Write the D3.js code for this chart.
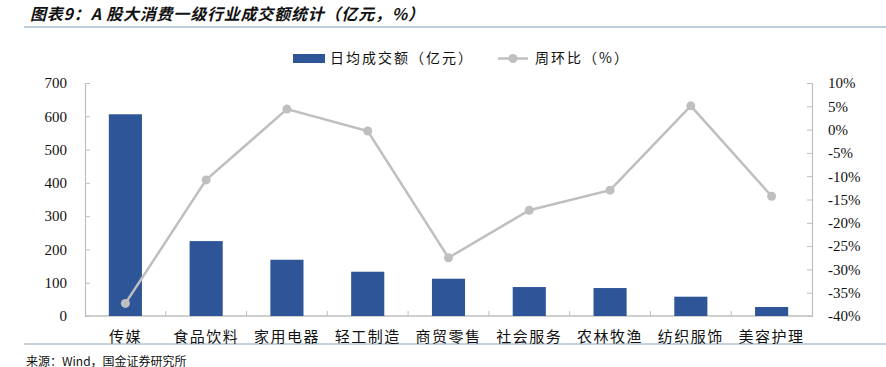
<!DOCTYPE html>
<html>
<head>
<meta charset="utf-8">
<script src="https://cdn.jsdelivr.net/npm/d3@7"></script>
<style>
  body { margin: 0; background: #fff; overflow: hidden; }
  svg { display: block; }
  svg text { fill: #111; }
</style>
</head>
<body>
<svg width="886" height="367"></svg>
<script>
const categories = ['传媒', '食品饮料', '家用电器', '轻工制造', '商贸零售', '社会服务', '农林牧渔', '纺织服饰', '美容护理'];
const turnover = [606, 225, 169, 133, 112, 87, 84, 58, 27];
const weekChange = [-37.3, -10.8, 4.4, -0.3, -27.5, -17.3, -13.0, 5.1, -14.3];
const leftTicks = [0, 100, 200, 300, 400, 500, 600, 700];
const rightTicks = [-40, -35, -30, -25, -20, -15, -10, -5, 0, 5, 10];

const svg = d3.select('svg');
const width = +svg.attr('width');
const height = +svg.attr('height');
const margin = { top: 83, right: 74, bottom: 51, left: 85 };
const innerWidth = width - margin.left - margin.right;
const innerHeight = height - margin.top - margin.bottom;

const serif = '"Liberation Serif", "Times New Roman", serif';
const cjk = '"Noto Sans CJK SC", sans-serif';
const axisColor = '#bfbfbf';
const barColor = '#2e5597';
const lineColor = '#bfbfbf';

// title and rules
svg.append('text')
    .attr('x', 30).attr('y', 20)
    .attr('font-family', cjk)
    .attr('font-size', 16)
    .attr('font-weight', 'bold')
    .attr('font-style', 'italic')
    .attr('letter-spacing', 0.8)
    .text('图表9：A 股大消费一级行业成交额统计（亿元，%）');

svg.append('line')
    .attr('x1', 24).attr('x2', width).attr('y1', 27).attr('y2', 27)
    .attr('stroke', '#a9bccb').attr('stroke-width', 1.5);

svg.append('line')
    .attr('x1', 24).attr('x2', width).attr('y1', 344).attr('y2', 344)
    .attr('stroke', '#8fa9bb').attr('stroke-width', 1.2);

svg.append('text')
    .attr('x', 26).attr('y', 366)
    .attr('font-family', cjk)
    .attr('font-size', 12)
    .text('来源：Wind，国金证券研究所');

const g = svg.append('g')
    .attr('transform', `translate(${margin.left},${margin.top})`);

// scales
const x = d3.scaleBand()
    .domain(categories)
    .range([0, innerWidth])
    .paddingInner(0.59)
    .paddingOuter(0.295);

const xBand = d3.scaleBand()
    .domain(categories)
    .range([0, innerWidth]);

const yLeft = d3.scaleLinear().domain([0, 700]).range([innerHeight, 0]);
const yRight = d3.scaleLinear().domain([-40, 10]).range([innerHeight, 0]);

// left axis
const yLeftAxis = d3.axisLeft(yLeft)
    .tickValues(leftTicks)
    .tickSize(-5)
    .tickPadding(18);
const yl = g.append('g').call(yLeftAxis);
yl.select('.domain').attr('stroke', axisColor).attr('stroke-width', 1.2);
yl.selectAll('.tick line').attr('stroke', axisColor);
yl.selectAll('.tick text')
    .attr('font-family', serif).attr('font-size', 15).attr('fill', '#111');

// right axis
const yRightAxis = d3.axisRight(yRight)
    .tickValues(rightTicks)
    .tickSize(-5)
    .tickPadding(16)
    .tickFormat(d => d + '%');
const yr = g.append('g')
    .attr('transform', `translate(${innerWidth},0)`)
    .call(yRightAxis);
yr.select('.domain').attr('stroke', axisColor).attr('stroke-width', 1.2);
yr.selectAll('.tick line').attr('stroke', axisColor);
yr.selectAll('.tick text')
    .attr('font-family', serif).attr('font-size', 15).attr('fill', '#111');

// x axis line with ticks between categories
g.append('line')
    .attr('x1', 0).attr('x2', innerWidth)
    .attr('y1', innerHeight).attr('y2', innerHeight)
    .attr('stroke', axisColor).attr('stroke-width', 1.5);

g.selectAll('.x-tick')
    .data(categories.slice(1))
    .enter()
    .append('line')
    .attr('class', 'x-tick')
    .attr('x1', d => xBand(d)).attr('x2', d => xBand(d))
    .attr('y1', innerHeight).attr('y2', innerHeight - 5)
    .attr('stroke', axisColor);

g.selectAll('.x-label')
    .data(categories)
    .enter()
    .append('text')
    .attr('class', 'x-label')
    .attr('x', d => xBand(d) + xBand.bandwidth() / 2)
    .attr('y', innerHeight + 26)
    .attr('text-anchor', 'middle')
    .attr('font-family', cjk)
    .attr('font-size', 15)
    .attr('letter-spacing', 1.5)
    .text(d => d);

// bars
g.selectAll('.bar')
    .data(categories)
    .enter()
    .append('rect')
    .attr('class', 'bar')
    .attr('x', d => x(d))
    .attr('width', x.bandwidth())
    .attr('y', (d, i) => yLeft(turnover[i]))
    .attr('height', (d, i) => innerHeight - yLeft(turnover[i]))
    .attr('fill', barColor);

// line
const cx = d => xBand(d) + xBand.bandwidth() / 2;
const line = d3.line()
    .x(d => cx(d))
    .y((d, i) => yRight(weekChange[i]));

g.append('path')
    .datum(categories)
    .attr('d', line)
    .attr('fill', 'none')
    .attr('stroke', lineColor)
    .attr('stroke-width', 2.5);

g.selectAll('.dot')
    .data(categories)
    .enter()
    .append('circle')
    .attr('class', 'dot')
    .attr('cx', d => cx(d))
    .attr('cy', (d, i) => yRight(weekChange[i]))
    .attr('r', 4.5)
    .attr('fill', lineColor);

// legend
const legend = svg.append('g');
legend.append('rect')
    .attr('x', 293).attr('y', 54).attr('width', 32).attr('height', 9)
    .attr('fill', barColor);
legend.append('text')
    .attr('x', 330).attr('y', 63)
    .attr('font-family', cjk).attr('font-size', 14).attr('letter-spacing', 2)
    .text('日均成交额（亿元）');
legend.append('line')
    .attr('x1', 498).attr('x2', 528).attr('y1', 58.5).attr('y2', 58.5)
    .attr('stroke', lineColor).attr('stroke-width', 2.5);
legend.append('circle')
    .attr('cx', 513).attr('cy', 58.5).attr('r', 4.5)
    .attr('fill', lineColor);
legend.append('text')
    .attr('x', 535).attr('y', 63)
    .attr('font-family', cjk).attr('font-size', 14).attr('letter-spacing', 2)
    .text('周环比（%）');
</script>
</body>
</html>
